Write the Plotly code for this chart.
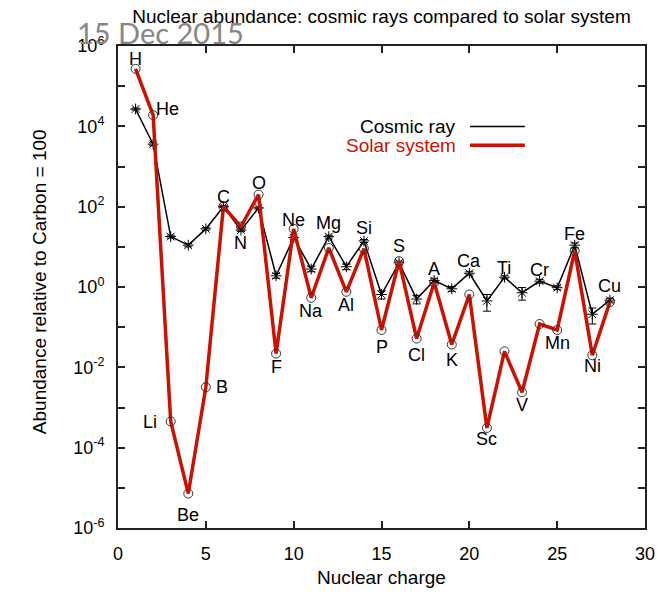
import math
import plotly.graph_objects as go

# ---------------- data ----------------
elements = ["H", "He", "Li", "Be", "B", "C", "N", "O", "F", "Ne", "Na", "Mg", "Al", "Si",
            "P", "S", "Cl", "A", "K", "Ca", "Sc", "Ti", "V", "Cr", "Mn", "Fe", "Ni", "Cu"]
charge = list(range(1, 29))
solar = [2.7e5, 1.9e4, 4.5e-4, 7.2e-6, 3.2e-3, 100, 32, 200, 0.022, 28, 0.54, 9.4, 0.76, 9.0,
         0.085, 4.4, 0.052, 1.3, 0.037, 0.65, 3.1e-4, 0.025, 2.4e-3, 0.12, 0.085, 8.0, 0.020, 0.42]
cosmic = [2.7e4, 3.6e3, 18, 11, 28, 100, 26, 93, 1.9, 17, 2.8, 18, 3.2, 14,
          0.65, 4.0, 0.5, 1.45, 0.9, 2.2, 0.45, 1.75, 0.72, 1.4, 0.96, 11, 0.21, 0.47]
cosmic_err = [1500, 300, 1.5, 1.0, 2.0, 5, 2.0, 5, 0.25, 1.5, 0.4, 1.5, 0.5, 1.2,
              0.15, 0.4, 0.12, 0.15, 0.12, 0.2, 0.2, 0.15, 0.25, 0.15, 0.1, 1.5, 0.09, 0.05]
y_major_exponents = [-6, -4, -2, 0, 2, 4, 6]
y_minor_exponents = [-5, -3, -1, 1, 3, 5]
x_tick_values = [0, 5, 10, 15, 20, 25, 30]

# --------------- label placement (style) ---------------
label_side = ["above", "right", "left", "below", "right", "above", "below", "above", "below",
              "above", "below", "above", "below", "above", "below", "above", "below", "above",
              "below", "above", "below", "above", "below", "above", "below", "above", "below", "above"]
label_dx = [0, 1, -12, 0, 8, 0, 0, 0, 0, 0, 0, 0, 0, 0, 0, 0, 0, 0, 0, 0, 0, 0, 0, 0, 0, 0, 0, 0]
label_gap = [10, 6, -1, 21, 0, 10, 13, 12, 13, 9, 13, 14, 13, 13, 17, 15, 16, 12, 15, 12, 11, 9,
             13, 11, 13, 11, 11, 14]

RED = "#cc1100"
FONT = "Liberation Sans, Arial, Helvetica, sans-serif"

fig = go.Figure()

fig.add_trace(go.Scatter(
    x=charge, y=cosmic, mode="lines+markers", name="Cosmic ray",
    line=dict(color="black", width=1.5),
    marker=dict(symbol="asterisk-open", size=9, color="black", line=dict(width=1, color="black")),
    error_y=dict(type="data", array=cosmic_err, symmetric=True, thickness=1, width=4, color="black"),
    showlegend=False,
))
fig.add_trace(go.Scatter(
    x=charge, y=solar, mode="lines", name="Solar system",
    line=dict(color=RED, width=3.5), showlegend=False,
))
fig.add_trace(go.Scatter(
    x=charge, y=solar, mode="markers", name="Solar system points",
    marker=dict(symbol="circle-open", size=9, color="#333333", line=dict(width=1, color="#333333")),
    showlegend=False,
))

annotations = []
for el, z, s, c, side, dx, gap in zip(elements, charge, solar, cosmic, label_side, label_dx, label_gap):
    if side == "above":
        yv, xa, ys = max(s, c), "center", gap
    elif side == "below":
        yv, xa, ys = min(s, c), "center", -gap
    elif side == "left":
        yv, xa, ys = s, "right", gap
    else:
        yv, xa, ys = s, "left", gap
    annotations.append(dict(
        x=z, y=math.log10(yv), xref="x", yref="y", text=el, showarrow=False,
        xanchor=xa, yanchor="middle", xshift=dx, yshift=ys,
        font=dict(family=FONT, size=18, color="black"),
    ))

# axis titles
annotations.append(dict(x=0.5, y=-0.102, xref="paper", yref="paper", text="Nuclear charge",
                        showarrow=False, xanchor="center", yanchor="middle",
                        font=dict(family=FONT, size=19, color="black")))
annotations.append(dict(x=-0.150, y=0.512, xref="paper", yref="paper",
                        text="Abundance relative to Carbon = 100", textangle=-90,
                        showarrow=False, xanchor="center", yanchor="middle",
                        font=dict(family=FONT, size=19, color="black")))
# legend (gnuplot style: text then sample line)
annotations.append(dict(x=0.645, y=0.832, xref="paper", yref="paper", text="Cosmic ray",
                        showarrow=False, xanchor="right", yanchor="middle",
                        font=dict(family=FONT, size=19, color="black")))
annotations.append(dict(x=0.645, y=0.793, xref="paper", yref="paper", text="Solar system",
                        showarrow=False, xanchor="right", yanchor="middle",
                        font=dict(family=FONT, size=19, color=RED)))
# date stamp
annotations.append(dict(x=0.08, y=1.027, xref="paper", yref="paper", text="15 Dec 2015",
                        showarrow=False, xanchor="center", yanchor="middle",
                        font=dict(family="Lato, Open Sans, sans-serif", size=29, color="#868686")))

shapes = [
    dict(type="line", xref="paper", yref="paper", x0=0.668, x1=0.772, y0=0.833, y1=0.833,
         line=dict(color="black", width=1.5)),
    dict(type="line", xref="paper", yref="paper", x0=0.668, x1=0.772, y0=0.794, y1=0.794,
         line=dict(color=RED, width=3.5)),
]

fig.update_layout(
    width=667, height=595,
    margin=dict(l=118, r=22, t=46, b=67),
    paper_bgcolor="white", plot_bgcolor="white",
    font=dict(family=FONT, size=18, color="black"),
    title=dict(text="Nuclear abundance: cosmic rays compared to solar system",
               x=0.5, xref="paper", y=0.973, yref="container", xanchor="center", yanchor="middle",
               font=dict(family=FONT, size=19, color="black")),
    annotations=annotations, shapes=shapes,
    xaxis=dict(range=[0, 30], tickvals=x_tick_values, ticks="inside", ticklen=7, tickwidth=1.5,
               tickcolor="#222", showline=True, linecolor="#222", linewidth=2, mirror="ticks",
               showgrid=False, zeroline=False, ticklabelstandoff=8,
               tickfont=dict(family=FONT, size=18, color="black")),
    yaxis=dict(type="log", range=[-6, 6], tickvals=[10 ** e for e in y_major_exponents],
               ticktext=["10<sup>%d</sup>" % e for e in y_major_exponents],
               ticks="inside", ticklen=7, tickwidth=1.5, tickcolor="#222",
               minor=dict(tickvals=[10 ** e for e in y_minor_exponents], ticks="inside",
                          ticklen=7, tickwidth=1.5, tickcolor="#222", showgrid=False),
               showline=True, linecolor="#222", linewidth=2, mirror="ticks",
               showgrid=False, zeroline=False, ticklabelstandoff=8,
               tickfont=dict(family=FONT, size=18, color="black")),
)

fig.write_html("out.html")
